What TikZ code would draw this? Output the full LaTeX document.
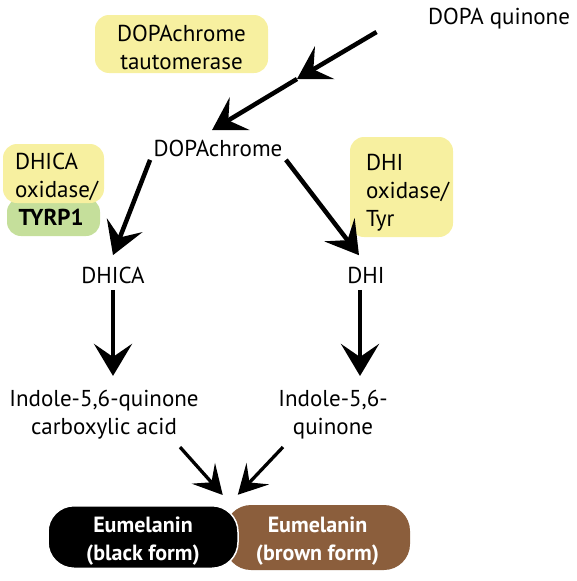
\documentclass[tikz,border=0pt]{standalone}
\usepackage{fontspec}
\setmainfont{PT Sans}
\usepackage{tikz}
\usetikzlibrary{arrows.meta}
\definecolor{enzyellow}{RGB}{247,240,160}
\definecolor{enzgreen}{RGB}{197,223,155}
\definecolor{melbrown}{RGB}{139,94,60}

\begin{document}
\begin{tikzpicture}[x=1pt,y=-1pt,
        font=\fontsize{23}{28}\selectfont,
        enzyme/.style={fill=enzyellow, rounded corners=14pt, inner sep=0pt},
        pigment/.style={rounded corners=26pt, text=white, align=center,
            font=\fontsize{22}{28}\selectfont\bfseries},
        bigarrow/.style={-{Stealth[length=32pt,width=38pt,inset=13pt]}, line width=4.5pt},
        smallarrow/.style={-{Stealth[length=29pt,width=31pt,inset=12pt]}, line width=3.3pt}]
    \useasboundingbox (0,0) rectangle (576,581);

    % enzymes
    \node[enzyme, minimum width=173pt, minimum height=58pt, align=center] (tauto) at (181.5,44) {\rule{0pt}{23pt}DOPAchrome\\tautomerase};
    \node[enzyme, fill=enzgreen, minimum width=93pt, minimum height=38pt, text width=70pt, align=left] (tyrp) at (53.5,217) {\textbf{TYRP1}};
    \node[enzyme, minimum width=101pt, minimum height=59pt, text width=77pt, align=left] (dhicaox) at (53.5,173.5) {\rule{0pt}{24pt}DHICA\\oxidase/};
    \node[enzyme, minimum width=103pt, minimum height=100pt, text width=71pt, align=left] (dhiox) at (401.5,187) {\rule{0pt}{28pt}DHI\\oxidase/\\Tyr};

    % intermediates
    \node (quinone) at (499,19) {DOPA quinone};
    \node (chrome) at (218,148) {DOPAchrome};
    \node (dhica) at (113,275) {DHICA};
    \node (dhi) at (366,275) {DHI};
    \node[align=center] (acid) at (104,415) {Indole-5,6-quinone\\carboxylic acid};
    \node[align=center] (iquinone) at (333,415) {Indole-5,6-\\quinone};

    % pigments
    \node[pigment, fill=melbrown, minimum width=185pt, minimum height=65pt] (brown) at (317.5,537.5) {\rule{0pt}{23pt}Eumelanin\\(brown form)};
    \node[pigment, fill=black, draw=white, line width=1.5pt, minimum width=190pt, minimum height=62pt] (black) at (143,537) {\rule{0pt}{23pt}Eumelanin\\(black form)};

    % reactions
    \coordinate (turn) at (297,79);
    \draw[bigarrow] ([xshift=-48pt,yshift=1pt]quinone.south west) -- (turn);
    \draw[bigarrow] (turn) -- ([xshift=-6pt,yshift=6pt]chrome.north);
    \draw[bigarrow] (chrome.south west) -- ([yshift=8pt]dhica.north);
    \draw[bigarrow] (chrome.south east) -- ([xshift=-7pt,yshift=8pt]dhi.north);
    \draw[bigarrow, shorten <=3pt, shorten >=11pt] (dhica.south) -- (dhica.south |- acid.north);
    \draw[bigarrow, shorten <=3pt, shorten >=11pt] ([xshift=-6pt]dhi.south) -- ([xshift=-6pt]dhi.south |- iquinone.north);
    \draw[smallarrow] ([xshift=76pt,yshift=-4pt]acid.south) -- ([xshift=-16pt,yshift=10pt]black.north east);
    \draw[smallarrow] ([xshift=-50pt,yshift=-4pt]iquinone.south) -- ([xshift=13pt,yshift=10pt]brown.north west);
\end{tikzpicture}
\end{document}
